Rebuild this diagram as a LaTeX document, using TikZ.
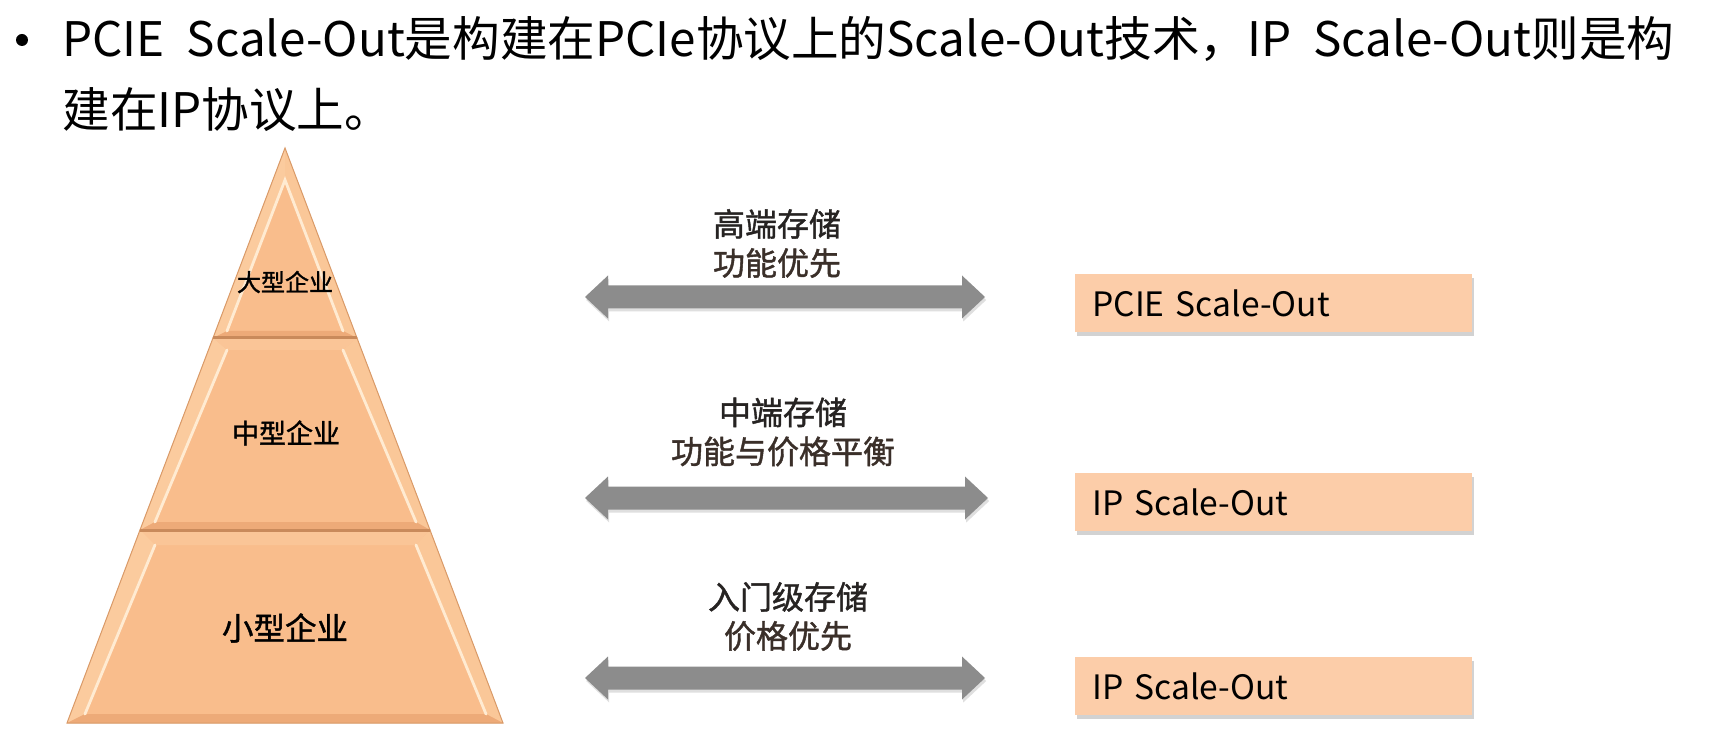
\documentclass[tikz,border=0pt]{standalone}
\usepackage{fontspec}
\setmainfont{Noto Sans CJK SC}
\newfontfamily\medfont{Noto Sans CJK SC}[FakeBold=1.3]
\usetikzlibrary{shadows,calc}
\definecolor{pyr}{HTML}{F9BD8C}
\definecolor{pyredge}{HTML}{D99A68}
\definecolor{pyrdiv}{HTML}{C98A5B}
\definecolor{pyrface}{HTML}{FBCB9E}
\definecolor{pyrbot}{HTML}{EDAA78}
\definecolor{pyrhi}{HTML}{FFEBD2}
\definecolor{boxfill}{HTML}{FCCDA9}
\definecolor{arrowgray}{HTML}{8C8C8C}
\definecolor{labdark}{HTML}{262322}
\definecolor{labbrown}{HTML}{3A2F29}
\newcommand\dblarrow[1]{%
  \fill[arrowgray, drop shadow={opacity=0.25, shadow xshift=0.6pt, shadow yshift=-1.5pt}]
    (#1l) -- ++(23,-21.5) -- ++(0,10) -- ($(#1r)+(-23,-11.5)$) -- ++(0,-10) -- (#1r)
    -- ++(-23,21.5) -- ++(0,-10) -- ($(#1l)+(23,11.5)$) -- ++(0,10) -- cycle;}
\begin{document}
\begin{tikzpicture}[x=0.5pt,y=-0.5pt,
  seglabel/.style={text=black, inner sep=0pt},
  arrlabel/.style={align=center, inner sep=0pt, font=\medfont\fontsize{16pt}{19.5pt}\selectfont},
  outbox/.style={rectangle, fill=boxfill, anchor=north west, minimum width=198.5pt,
     minimum height=29pt, text width=181.5pt, inner xsep=8.5pt, inner ysep=0pt, align=left,
     font=\fontsize{16.8pt}{19pt}\selectfont, text=black,
     drop shadow={opacity=0.35, shadow xshift=0.8pt, shadow yshift=-1.6pt}}]
\useasboundingbox (0,0) rectangle (1725,754);
\fill[white] (0,0) rectangle (1725,754);

% ---------- title ----------
\node[circle, fill=black, inner sep=0pt, minimum size=6pt] (bullet) at (22,40) {};
\node[anchor=base west, inner sep=0pt, font=\fontsize{23.8pt}{28pt}\selectfont] (t1) at (62,57)
  {\makebox[806pt][s]{PCIE Scale-Out是构建在PCIe协议上的Scale-Out技术，IP Scale-Out则是构}};
\node[anchor=base west, inner sep=0pt, font=\fontsize{23.8pt}{28pt}\selectfont] (t2) at (62,128)
  {建在IP协议上。};

% ---------- pyramid ----------
% top triangle
\coordinate (A) at (285,148);
\coordinate (B1) at (357,338); \coordinate (C1) at (213,338);
\coordinate (a) at (285,180);
\coordinate (b1) at (343,331); \coordinate (c1) at (227,331);
\fill[pyr] (A) -- (B1) -- (C1) -- cycle;
\fill[pyrface] (A) -- (a) -- (c1) -- (C1) -- cycle;
\fill[pyrface!70!pyr] (A) -- (B1) -- (b1) -- (a) -- cycle;
\fill[pyrbot] (C1) -- (c1) -- (b1) -- (B1) -- cycle;
\draw[pyrhi, line width=1.4pt, line cap=round] (c1) -- (a) -- (b1);
\draw[pyredge, line width=0.5pt] (A) -- (B1) -- (C1) -- cycle;

% middle trapezoid
\coordinate (B2) at (430,530); \coordinate (C2) at (140,530);
\coordinate (tl2) at (227,350); \coordinate (tr2) at (343,350);
\coordinate (br2) at (416,522); \coordinate (bl2) at (155,522);
\fill[pyr] (C1) -- (B1) -- (B2) -- (C2) -- cycle;
\fill[pyrface!60!pyr] (C1) -- (B1) -- (tr2) -- (tl2) -- cycle;
\fill[pyrface] (C1) -- (tl2) -- (bl2) -- (C2) -- cycle;
\fill[pyrface!70!pyr] (B1) -- (B2) -- (br2) -- (tr2) -- cycle;
\fill[pyrbot] (C2) -- (bl2) -- (br2) -- (B2) -- cycle;
\draw[pyrhi, line width=1.4pt, line cap=round] (bl2) -- (tl2);
\draw[pyrhi, line width=1.4pt, line cap=round] (tr2) -- (br2);
\draw[pyredge, line width=0.5pt] (C1) -- (B1) -- (B2) -- (C2) -- cycle;

% bottom trapezoid
\coordinate (B3) at (503,723); \coordinate (C3) at (67,723);
\coordinate (tl3) at (155,545); \coordinate (tr3) at (416,545);
\coordinate (br3) at (486,714); \coordinate (bl3) at (85,714);
\fill[pyr] (C2) -- (B2) -- (B3) -- (C3) -- cycle;
\fill[pyrface!60!pyr] (C2) -- (B2) -- (tr3) -- (tl3) -- cycle;
\fill[pyrface] (C2) -- (tl3) -- (bl3) -- (C3) -- cycle;
\fill[pyrface!70!pyr] (B2) -- (B3) -- (br3) -- (tr3) -- cycle;
\fill[pyrbot] (C3) -- (bl3) -- (br3) -- (B3) -- cycle;
\draw[pyrhi, line width=1.4pt, line cap=round] (bl3) -- (tl3);
\draw[pyrhi, line width=1.4pt, line cap=round] (tr3) -- (br3);
\draw[pyredge, line width=0.5pt] (C2) -- (B2) -- (B3) -- (C3) -- cycle;

% dividers
\draw[pyrdiv, line width=1.5pt] (C1) -- (B1);
\draw[pyrdiv, line width=1.5pt] (C2) -- (B2);

\node[seglabel, font=\medfont\fontsize{12pt}{14pt}\selectfont] (seg1) at (285,282) {大型企业};
\node[seglabel, font=\medfont\fontsize{13.5pt}{16pt}\selectfont] (seg2) at (286,433) {中型企业};
\node[seglabel, font=\medfont\fontsize{15.75pt}{18pt}\selectfont] (seg3) at (285,628) {小型企业};

% ---------- arrows ----------
\coordinate (a1l) at (585,297); \coordinate (a1r) at (985,297);
\coordinate (a2l) at (585,498); \coordinate (a2r) at (988,498);
\coordinate (a3l) at (585,678); \coordinate (a3r) at (985,678);
\dblarrow{a1}
\dblarrow{a2}
\dblarrow{a3}

\node[arrlabel] (lab1) at (777,243.5) {\textcolor{labdark}{高端存储}\\\textcolor{labbrown}{功能优先}};
\node[arrlabel] (lab2) at (783,432) {\textcolor{labdark}{中端存储}\\\textcolor{labbrown}{功能与价格平衡}};
\node[arrlabel] (lab3) at (788,616.5) {\textcolor{labdark}{入门级存储}\\\textcolor{labbrown}{价格优先}};

% ---------- boxes ----------
\node[outbox] (box1) at (1075,274) {PCIE Scale-Out};
\node[outbox] (box2) at (1075,473) {IP Scale-Out};
\node[outbox] (box3) at (1075,657) {IP Scale-Out};
\end{tikzpicture}
\end{document}
